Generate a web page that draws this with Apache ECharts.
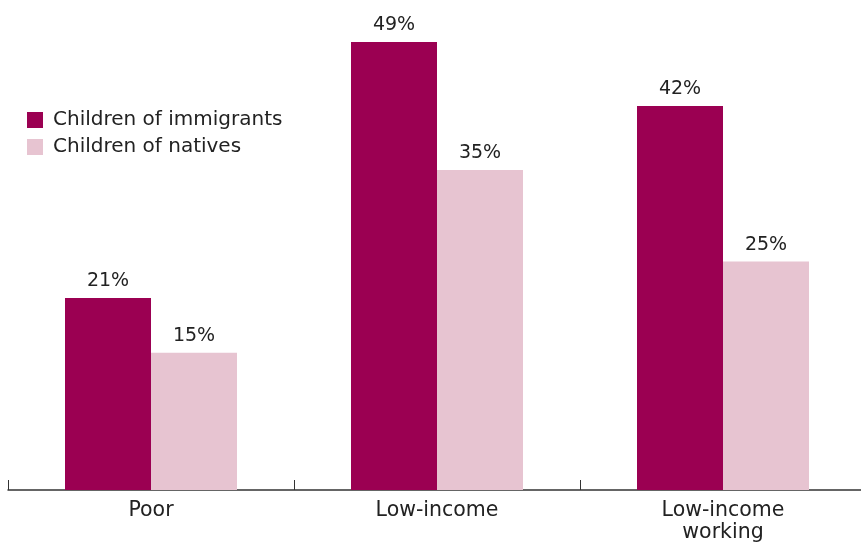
<!DOCTYPE html>
<html>
<head>
<meta charset="utf-8">
<script src="https://cdn.jsdelivr.net/npm/echarts@6/dist/echarts.min.js"></script>
<style>html,body{margin:0;padding:0;background:#fff}#c{width:861px;height:544px}</style>
</head>
<body>
<div id="c"></div>
<script>
const categories = ['Poor', 'Low-income', 'Low-income\nworking'];
const seriesNames = ['Children of immigrants', 'Children of natives'];
const immigrants = [21, 49, 42];
const natives = [15, 35, 25];

const chart = echarts.init(document.getElementById('c'), null, {renderer: 'canvas'});
const font = '"DejaVu Sans", sans-serif';
const labelCfg = {show: true, position: 'top', distance: 7, formatter: '{c}%', color: '#222', fontSize: 19, fontFamily: font};
chart.setOption({
  animation: false,
  grid: {left: 8, top: 42, bottom: 54, width: 858, containLabel: false, outerBoundsMode: 'none'},
  legend: {
    orient: 'vertical', left: 27, top: 110, padding: 0, itemWidth: 16, itemHeight: 16, itemGap: 7,
    icon: 'rect', textStyle: {fontSize: 20, color: '#222', fontFamily: font, padding: [0,0,0,5]},
    data: seriesNames
  },
  xAxis: {
    type: 'category', data: categories,
    axisLine: {lineStyle: {color: '#333', width: 1.5}},
    axisTick: {show: true, inside: true, length: 10, lineStyle: {color: '#333', width: 1}},
    axisLabel: {color: '#222', fontSize: 20.5, fontFamily: font, margin: 10, lineHeight: 22}
  },
  yAxis: {type: 'value', min: 0, max: 49, show: false, splitLine: {show: false}},
  series: [
    {name: seriesNames[0], type: 'bar', data: immigrants, barWidth: 86, barGap: '0%', itemStyle: {color: '#9B0052'}, label: labelCfg},
    {name: seriesNames[1], type: 'bar', data: natives, barWidth: 86, barGap: '0%', itemStyle: {color: '#E7C4D1'}, label: labelCfg}
  ]
});
</script>
</body>
</html>
